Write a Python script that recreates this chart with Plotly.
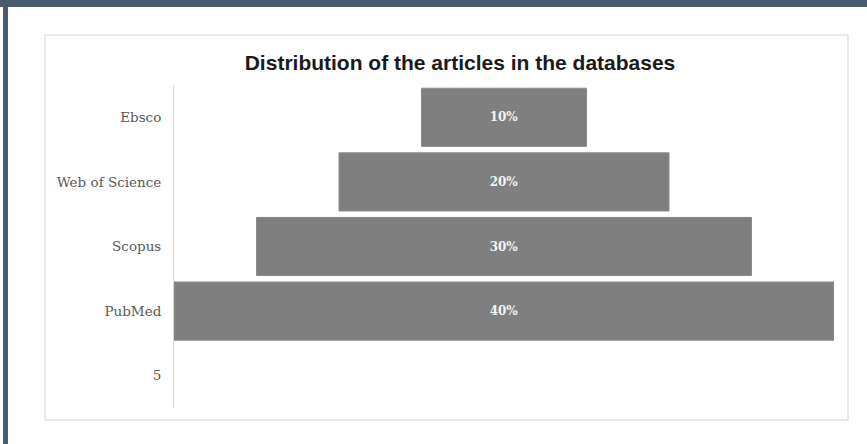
import plotly.graph_objects as go

categories = ["Ebsco", "Web of Science", "Scopus", "PubMed", "5"]
values = [10, 20, 30, 40, None]
labels = ["10%", "20%", "30%", "40%", ""]

W, H = 867, 444
L, R, T, B = 174, 33, 85, 36
pw, ph = W - L - R, H - T - B

def px_x(x):
    return (x - L) / pw

def px_y(y):
    return (H - B - y) / ph

vmax = max(v for v in values if v is not None)
bases = [(vmax - v) / 2 if v is not None else None for v in values]

fig = go.Figure()
fig.add_trace(go.Bar(
    y=categories, x=values, base=bases, orientation="h",
    marker=dict(color="#7f7f7f", line=dict(color="#8a8a8a", width=1)),
    text=["<b>%s</b>" % t if t else "" for t in labels],
    textposition="inside", insidetextanchor="middle",
    textfont=dict(family="DejaVu Serif", size=12, color="#f2f2f2"),
    hoverinfo="skip",
))

shapes = [
    dict(type="rect", xref="paper", yref="paper", x0=px_x(45), x1=px_x(848),
         y0=px_y(420), y1=px_y(35), line=dict(color="#e3e3e3", width=1.5),
         fillcolor="rgba(0,0,0,0)", layer="below"),
    dict(type="rect", xref="paper", yref="paper", x0=px_x(0), x1=px_x(W),
         y0=px_y(7), y1=px_y(0), line=dict(width=0), fillcolor="#475a6e"),
    dict(type="rect", xref="paper", yref="paper", x0=px_x(3), x1=px_x(8),
         y0=px_y(H), y1=px_y(0), line=dict(width=0), fillcolor="#475a6e"),
]

fig.update_layout(
    width=W, height=H,
    margin=dict(l=L, r=R, t=T, b=B),
    paper_bgcolor="white", plot_bgcolor="white",
    showlegend=False, bargap=0.1,
    title=dict(text="<b>Distribution of the articles in the databases</b>",
               x=460 / W, xanchor="center", y=1 - 63 / H, yanchor="middle",
               font=dict(family="Liberation Sans", size=21, color="#1a1a1a")),
    xaxis=dict(range=[0, vmax], visible=False, fixedrange=True),
    yaxis=dict(categoryorder="array", categoryarray=categories[::-1],
               range=[-0.5, len(categories) - 0.5],
               showline=True, linecolor="#d9d9d9", linewidth=1,
               showgrid=False, zeroline=False, ticks="", ticklabelstandoff=9,
               tickfont=dict(family="DejaVu Serif", size=13.5, color="#595959")),
    shapes=shapes,
)

fig.write_html("out.html")
